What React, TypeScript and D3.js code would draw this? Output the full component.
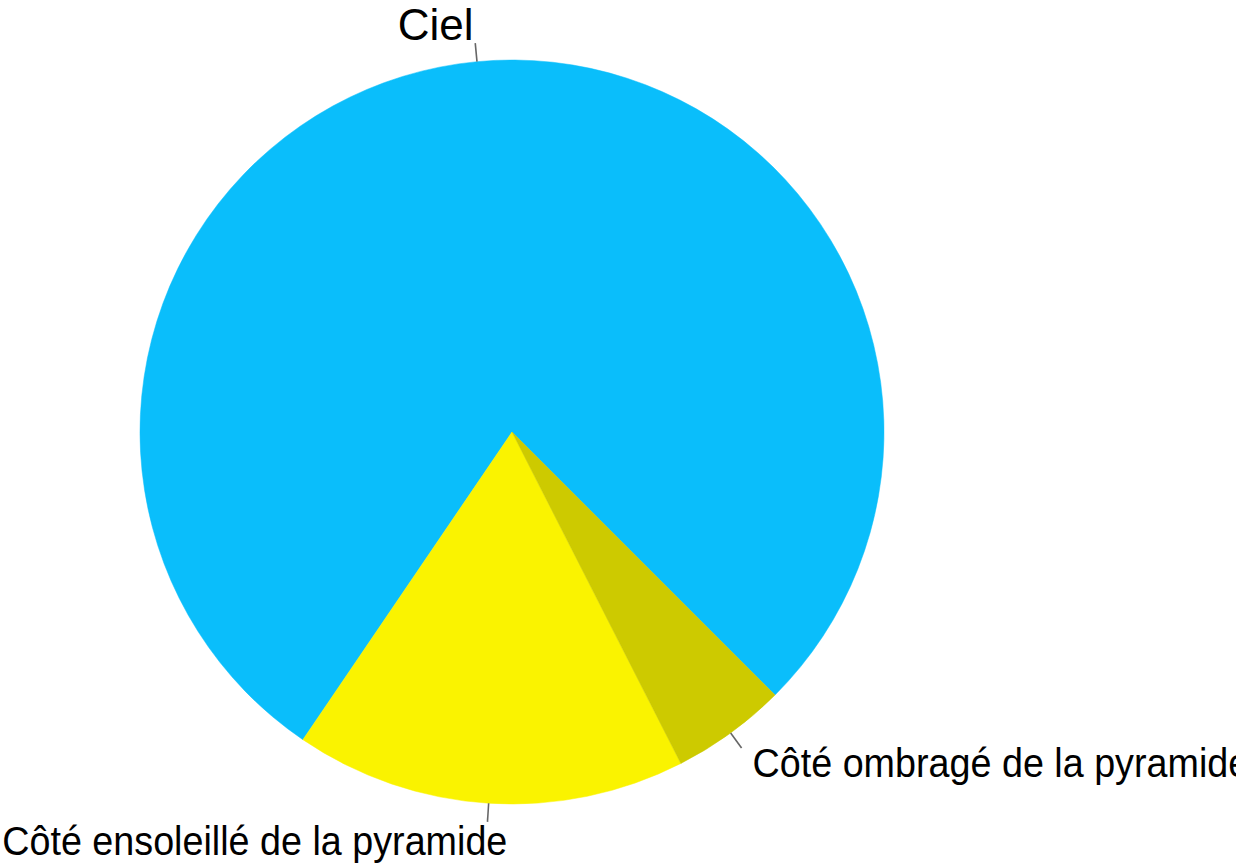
import React, { useEffect, useRef } from 'react';
import * as d3 from 'd3';

// Pie slices, in drawing order (counter-clockwise from the lower right)
const categories = ['Ciel', 'Côté ensoleillé de la pyramide', 'Côté ombragé de la pyramide'];
const values = [78, 17, 5];
const colors = ['#0ABEFB', '#FAF300', '#CDCA00'];

const App = () => {
  const svgRef = useRef<SVGSVGElement>(null);

  useEffect(() => {
    if (!svgRef.current) return;

    const width = 1236;
    const height = 864;
    const cx = 512;
    const cy = 432;
    const radius = 372;

    const svg = d3.select(svgRef.current);
    svg.selectAll('*').remove();

    const data = categories.map((name, i) => ({ name, value: values[i], color: colors[i] }));

    // start at the lower right and go round counter-clockwise
    const start = (135 / 180) * Math.PI;
    const pie = d3.pie<{ name: string; value: number; color: string }>()
      .value(d => d.value)
      .sort(null)
      .startAngle(start)
      .endAngle(start - 2 * Math.PI);

    const arcs = pie(data);

    const arc = d3.arc<d3.PieArcDatum<any>>()
      .innerRadius(0)
      .outerRadius(radius);

    const g = svg.append('g').attr('transform', `translate(${cx},${cy})`);

    g.selectAll('path')
      .data(arcs)
      .enter()
      .append('path')
      .attr('d', arc)
      .attr('fill', d => d.data.color)
      .attr('stroke', d => d.data.color)
      .attr('stroke-width', 0.5);

    // tick marks from the rim outwards
    const mid = (d: d3.PieArcDatum<any>) => (d.startAngle + d.endAngle) / 2;

    g.selectAll('line.tick')
      .data(arcs)
      .enter()
      .append('line')
      .attr('class', 'tick')
      .attr('x1', d => radius * Math.sin(mid(d)))
      .attr('y1', d => -radius * Math.cos(mid(d)))
      .attr('x2', d => radius * 1.05 * Math.sin(mid(d)))
      .attr('y2', d => -radius * 1.05 * Math.cos(mid(d)))
      .attr('stroke', '#666')
      .attr('stroke-width', 1.6);

    // labels at 1.1 * radius, long ones slightly condensed
    const sxOf = (name: string) => (name.length > 10 ? 0.92 : 1);

    const labels = g.selectAll('text.label')
      .data(arcs)
      .enter()
      .append('text')
      .attr('class', 'label')
      .attr('dy', '0.35em')
      .attr('text-anchor', d => (Math.sin(mid(d)) < 0 ? 'end' : 'start'))
      .attr('font-family', '"Liberation Sans", Arial, sans-serif')
      .attr('font-size', d => (d.data.name.length > 10 ? 41 : 44))
      .attr('fill', '#000')
      .text(d => d.data.name);

    // keep labels that would run off the left edge inside the picture
    labels.attr('transform', function (d) {
      let x = radius * 1.1 * Math.sin(mid(d));
      const y = -radius * 1.1 * Math.cos(mid(d));
      const sx = sxOf(d.data.name);
      const w = (this as SVGTextElement).getBBox().width * sx;
      if (Math.sin(mid(d)) < 0 && cx + x - w < 2) x = 2 + w - cx;
      return `translate(${x},${y}) scale(${sx},1)`;
    });

    svg.attr('width', width).attr('height', height);
  }, []);

  return (
    <svg
      ref={svgRef}
      width={1236}
      height={864}
      style={{ position: 'absolute', left: 0, top: 0, background: '#fff' }}
    />
  );
};

export default App;
